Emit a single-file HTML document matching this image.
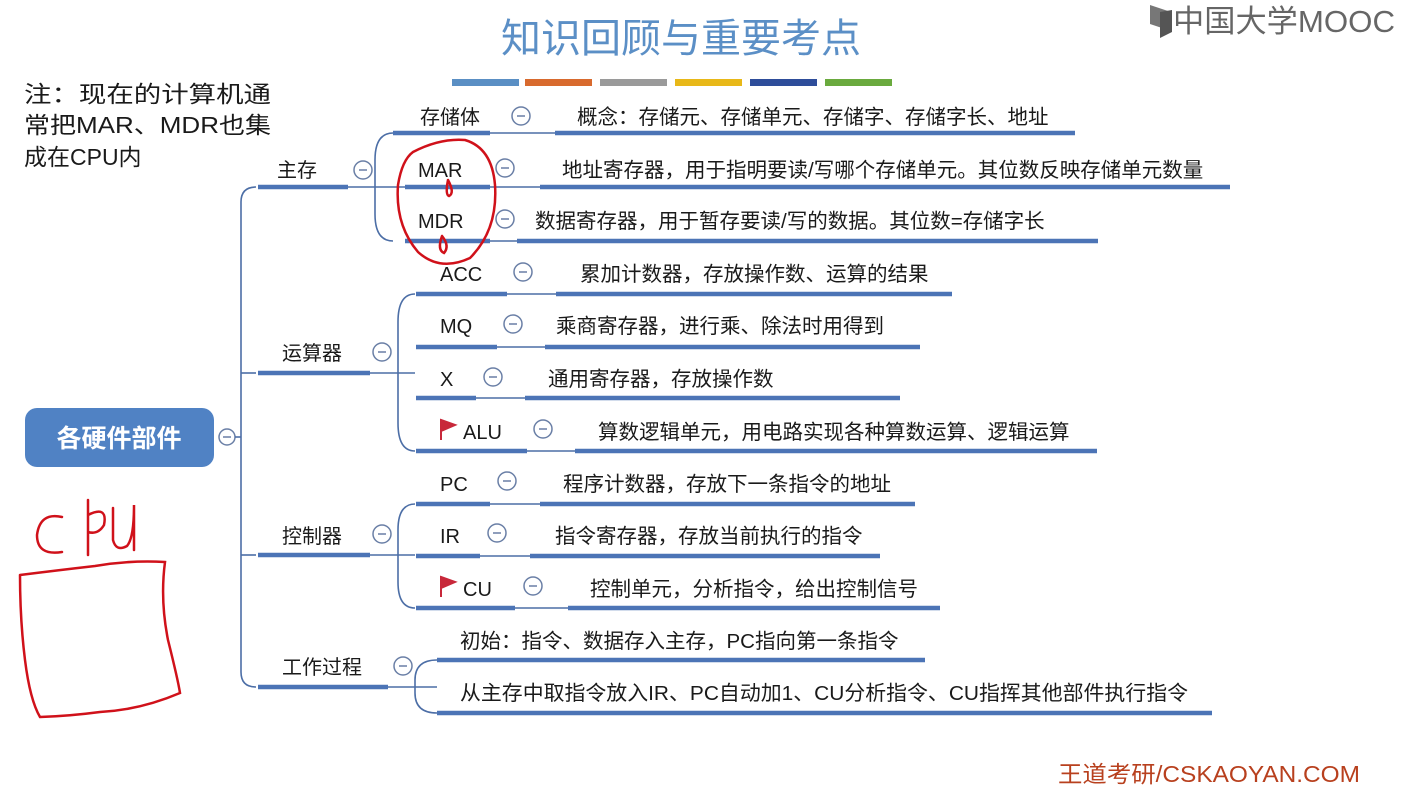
<!DOCTYPE html>
<html><head><meta charset="utf-8"><style>
html,body{margin:0;padding:0;background:#fff;width:1401px;height:791px;overflow:hidden}
svg{display:block}
text{font-family:"Liberation Sans","Noto Sans CJK SC",sans-serif;fill:#1a1a1a}
</style></head><body>
<svg width="1401" height="791" viewBox="0 0 1401 791" xmlns="http://www.w3.org/2000/svg">
<text x="681" y="52" font-size="40" text-anchor="middle" style="fill:#5b8fc6">知识回顾与重要考点</text>
<rect x="452" y="79" width="67" height="7" fill="#5a8fc4"/>
<rect x="525" y="79" width="67" height="7" fill="#d86a2e"/>
<rect x="600" y="79" width="67" height="7" fill="#9a9a9a"/>
<rect x="675" y="79" width="67" height="7" fill="#e8b818"/>
<rect x="750" y="79" width="67" height="7" fill="#2e4d9a"/>
<rect x="825" y="79" width="67" height="7" fill="#6aaa3e"/>
<path d="M1150 5 L1168 11 L1168 30 L1150 24 Z" fill="#777"/>
<path d="M1160 12 L1172 10 L1172 32 L1160 38 Z" fill="#555"/>
<text x="1173" y="32" font-size="31" style="fill:#666" textLength="222" lengthAdjust="spacingAndGlyphs">中国大学MOOC</text>
<text x="24" y="102" font-size="23" textLength="247" lengthAdjust="spacingAndGlyphs">注：现在的计算机通</text>
<text x="24" y="133" font-size="23" textLength="247" lengthAdjust="spacingAndGlyphs">常把MAR、MDR也集</text>
<text x="24" y="165" font-size="23">成在CPU内</text>
<rect x="25" y="408" width="189" height="59" rx="12" fill="#5082c4"/>
<text x="119" y="447" font-size="25" font-weight="bold" text-anchor="middle" style="fill:#fff">各硬件部件</text>
<g fill="#fff" stroke="#6a7fa6" stroke-width="1.5"><circle cx="227" cy="437" r="8"/></g>
<g stroke="#4c6ea6" fill="none" stroke-width="1.6">
<path d="M235 437 H241"/>
<path d="M256 187 Q241 187 241 202 V672 Q241 687 256 687"/>
<path d="M241 373 H256"/>
<path d="M241 555 H256"/>
<path d="M348 187 H405"/><path d="M370 373 H415"/><path d="M370 555 H415"/><path d="M388 687 H437"/>
<path d="M393 133 Q375 133 375 160 V214 Q375 241 393 241"/>
<path d="M415 294 Q398 294 398 322 V423 Q398 451 415 451"/>
<path d="M415 504 Q398 504 398 530 V582 Q398 608 415 608"/>
<path d="M437 660 Q415 660 415 680 V693 Q415 713 437 713"/>
<path d="M490 133 H555"/><path d="M490 187 H540"/><path d="M490 241 H517"/>
<path d="M507 294 H556"/><path d="M497 347 H545"/><path d="M476 398 H525"/><path d="M527 451 H575"/>
<path d="M490 504 H540"/><path d="M480 556 H530"/><path d="M515 608 H568"/>
</g>
<g stroke="#4c74b6" stroke-width="4.5">
<path d="M258 187 H348"/><path d="M258 373 H370"/><path d="M258 555 H370"/><path d="M258 687 H388"/>
<path d="M393 133 H490"/><path d="M405 187 H490"/><path d="M405 241 H490"/>
<path d="M416 294 H507"/><path d="M416 347 H497"/><path d="M416 398 H476"/><path d="M416 451 H527"/>
<path d="M416 504 H490"/><path d="M416 556 H480"/><path d="M416 608 H515"/>
<path d="M555 133 H1075"/><path d="M540 187 H1230"/><path d="M517 241 H1098"/>
<path d="M556 294 H952"/><path d="M545 347 H920"/><path d="M525 398 H900"/><path d="M575 451 H1097"/>
<path d="M540 504 H915"/><path d="M530 556 H880"/><path d="M568 608 H940"/>
<path d="M437 660 H925"/><path d="M437 713 H1212"/>
</g>
<g fill="#fff" stroke="#6a7fa6" stroke-width="1.5">
<circle cx="363" cy="170" r="9"/><circle cx="382" cy="352" r="9"/><circle cx="382" cy="534" r="9"/><circle cx="403" cy="666" r="9"/>
<circle cx="521" cy="116" r="9"/><circle cx="505" cy="168" r="9"/><circle cx="505" cy="219" r="9"/>
<circle cx="523" cy="272" r="9"/><circle cx="513" cy="324" r="9"/><circle cx="493" cy="377" r="9"/><circle cx="543" cy="429" r="9"/>
<circle cx="507" cy="481" r="9"/><circle cx="497" cy="533" r="9"/><circle cx="533" cy="586" r="9"/>
</g>
<g stroke="#6a7fa6" stroke-width="1.5">
<path d="M359 170h8M378 352h8M378 534h8M399 666h8M517 116h8M501 168h8M501 219h8M519 272h8M509 324h8M489 377h8M539 429h8M503 481h8M493 533h8M529 586h8M223 437h8"/>
</g>
<g font-size="20">
<text x="277" y="177">主存</text>
<text x="282" y="360">运算器</text>
<text x="282" y="543">控制器</text>
<text x="282" y="674">工作过程</text>
<text x="420" y="124">存储体</text>
<text x="418" y="177">MAR</text>
<text x="418" y="228">MDR</text>
<text x="440" y="281">ACC</text>
<text x="440" y="333">MQ</text>
<text x="440" y="386">X</text>
<text x="463" y="439">ALU</text>
<text x="440" y="491">PC</text>
<text x="440" y="543">IR</text>
<text x="463" y="596">CU</text>
</g>
<g font-size="20.5">
<text x="577" y="124">概念：存储元、存储单元、存储字、存储字长、地址</text>
<text x="562" y="177">地址寄存器，用于指明要读/写哪个存储单元。其位数反映存储单元数量</text>
<text x="535" y="228">数据寄存器，用于暂存要读/写的数据。其位数=存储字长</text>
<text x="580" y="281">累加计数器，存放操作数、运算的结果</text>
<text x="556" y="333">乘商寄存器，进行乘、除法时用得到</text>
<text x="548" y="386">通用寄存器，存放操作数</text>
<text x="598" y="439">算数逻辑单元，用电路实现各种算数运算、逻辑运算</text>
<text x="563" y="491">程序计数器，存放下一条指令的地址</text>
<text x="555" y="543">指令寄存器，存放当前执行的指令</text>
<text x="590" y="596">控制单元，分析指令，给出控制信号</text>
<text x="460" y="648">初始：指令、数据存入主存，PC指向第一条指令</text>
<text x="460" y="700" textLength="728" lengthAdjust="spacingAndGlyphs">从主存中取指令放入IR、PC自动加1、CU分析指令、CU指挥其他部件执行指令</text>
</g>
<g fill="#c8283a">
<path d="M441 420 V440 M441 420 L455 425 L441 431 Z" stroke="#c8283a" stroke-width="2"/>
<path d="M441 577 V597 M441 577 L455 582 L441 588 Z" stroke="#c8283a" stroke-width="2"/>
</g>
<g stroke="#d0111a" stroke-width="2.5" fill="none" stroke-linecap="round">
<path d="M413 152 Q440 138 465 140 Q492 148 495 185 Q498 230 470 258 Q440 272 418 252 Q395 225 398 185 Q402 160 413 152"/>
<path d="M448 180 Q445 195 449 196 Q455 193 448 180"/>
<path d="M442 236 Q437 250 444 253 Q450 246 442 236"/>
<path d="M62 517 Q40 512 37 535 Q37 556 62 552"/>
<path d="M88 500 V555 M88 515 Q108 505 104 525 Q98 535 88 532"/>
<path d="M113 508 V540 Q116 552 127 546 Q134 538 134 505 V550"/>
<path d="M20 575 Q60 570 95 566 Q130 560 165 562 Q160 600 168 640 Q178 680 180 693 Q140 710 100 712 Q70 716 40 717 Q30 700 25 660 Q20 620 20 575"/>
</g>
<text x="1058" y="782" font-size="23" style="fill:#b8401e" textLength="302" lengthAdjust="spacingAndGlyphs">王道考研/CSKAOYAN.COM</text>
</svg>
</body></html>
